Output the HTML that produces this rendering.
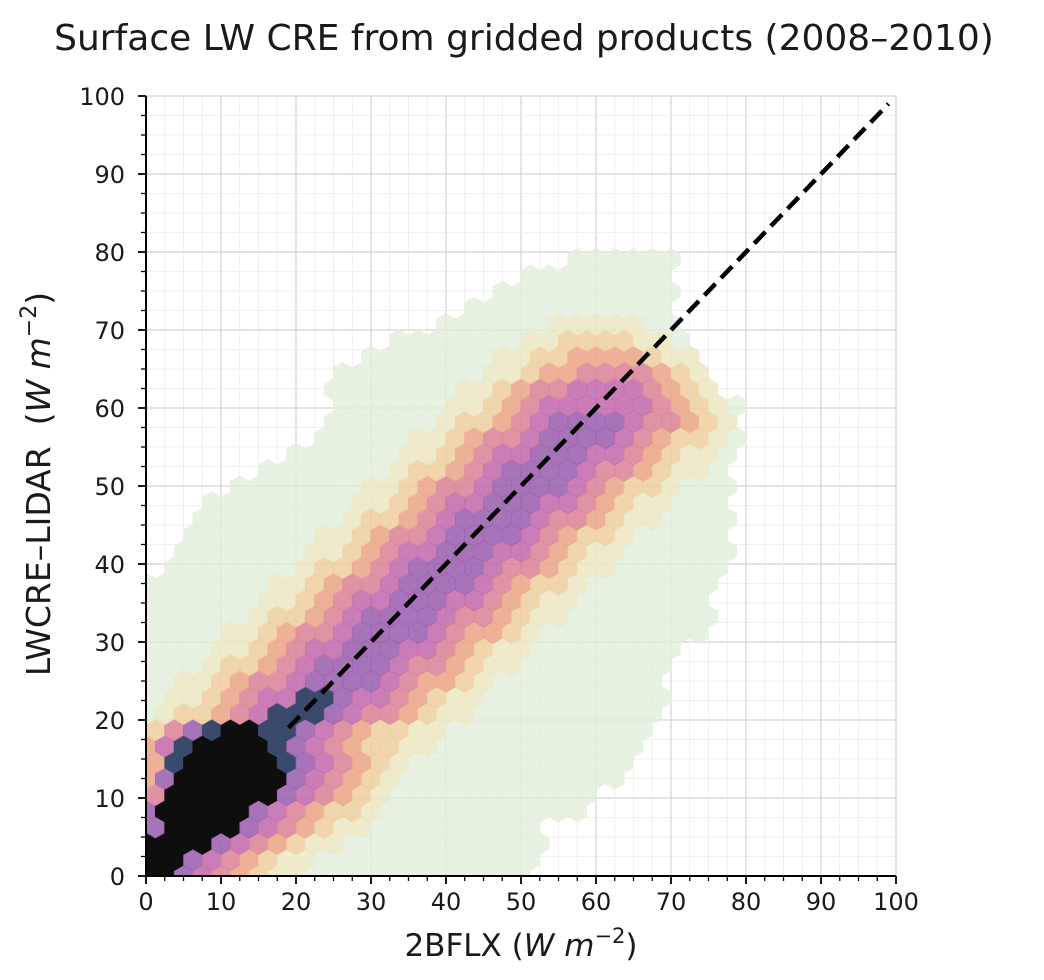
<!DOCTYPE html>
<html><head><meta charset="utf-8"><style>
html,body{margin:0;padding:0;background:#fff;}
svg{display:block;font-family:"DejaVu Sans","Liberation Sans",sans-serif;}
</style></head><body>
<svg id="chart" width="1044" height="980" viewBox="0 0 1044 980">
<defs><clipPath id="plotclip"><rect x="146" y="96" width="750" height="780"/></clipPath></defs>
<text x="524" y="50" text-anchor="middle" font-size="36" fill="#1a1a1a">Surface LW CRE from gridded products (2008–2010)</text>
<g id="grid"></g>
<g id="oneone"></g>
<g id="hexes" clip-path="url(#plotclip)"></g>
<g id="axes"></g>
<text x="521" y="956" text-anchor="middle" font-size="31" fill="#1a1a1a">2BFLX (<tspan font-style="italic">W m</tspan><tspan font-size="21" dy="-13">−2</tspan><tspan dy="13">)</tspan></text>
<text transform="translate(50,484) rotate(-90)" text-anchor="middle" font-size="33" fill="#1a1a1a" xml:space="preserve">LWCRE–LIDAR  (<tspan font-style="italic">W m</tspan><tspan font-size="22" dy="-14">−2</tspan><tspan dy="14">)</tspan></text>
</svg>
<script>
const xTicks = [0,10,20,30,40,50,60,70,80,90,100];
const yTicks = [0,10,20,30,40,50,60,70,80,90,100];
const binStepX = 2.5;
const binStepY = 2.08;
const levelColors = ["#e3efdb","#ece8c4","#eed0a2","#eba78a","#dc8598","#c36cad","#9b61b0","#3a4a6c","#0e0e0e"];
const hexRows = [
"886543211000000000000............",
"886543211000000000000............",
"8888654321100000000000...........",
"688886543211000000000............",
"688888654322100000000000.........",
"488888865432100000000000.........",
"36888888654321000000000000.......",
"37888887654321000000000000.......",
"357888876543221100000000000......",
"246788776543221100000000000......",
"0122345777654432110000000000.....",
"0112345577655432110000000000.....",
"0011234456666543321000000000....",
"0001223456666544321100000000.....",
"00001123455666554321100000000....",
"000011234456666543321000000000...",
"0000001223456666544321100000000..",
"000000112345566655432110000000...",
"000000011234456666543221000000 0..",
".000000012234566665443211000000..",
"..000000011234556665543211000000.",
"..00000001123445666654322100000..",
"...0000000012234566665443211 0000.",
"...0000000011234556665543211000..",
".....00000001123445666654322 1000.",
"......0000000122345666654432110..",
"........0000001123455666554321 10.",
".........0000011234456666543221 0.",
"..........0000001223456666544321.",
"..........0000001123455555543210.",
"..........000000011234455554321..",
"..........00000000112334444321...",
"............00000001122333321 1...",
".............000000011222211 0....",
"................00000011111 00....",
".................00000000000.....",
"...................0000000000....",
"....................00000000.....",
".......................000000...."
];
const X0=146, X1=896, Y0=876, Y1=96;
function sx(v){return X0+(X1-X0)*v/100;}
function sy(v){return Y0-(Y0-Y1)*v/100;}
const NS="http://www.w3.org/2000/svg";
function mk(tag,attrs,parent){const e=document.createElementNS(NS,tag);for(const k in attrs)e.setAttribute(k,attrs[k]);parent.appendChild(e);return e;}
const grid=document.getElementById('grid');
for(let v=0;v<=100;v+=2.5){
  const major=(v%10===0);
  const gl=mk('line',{x1:sx(v),x2:sx(v),y1:sy(0),y2:sy(100),stroke:major?'#d4d4d4':'#ececec','stroke-width':major?1.2:0.8},grid);
  
  
  const gh=mk('line',{x1:sx(0),x2:sx(100),y1:sy(v),y2:sy(v),stroke:major?'#d4d4d4':'#ececec','stroke-width':major?1.2:0.8},grid);
  
  
}
const hexG=document.getElementById('hexes');
const hw=binStepX*(X1-X0)/100/2;
const rv=binStepY*(Y0-Y1)/100/1.5;
hexRows.forEach((row,i)=>{
  const clean=row.replace(/ /g,'');
  for(let j=0;j<clean.length;j++){
    const ch=clean[j];
    if(ch==='.'||ch===undefined)continue;
    const lvl=parseInt(ch,10);
    if(isNaN(lvl))continue;
    const xv=j*binStepX+(i%2?binStepX/2:0);
    const yv=i*binStepY;
    const cx=sx(xv), cy=sy(yv);
    const pts=[[0,-rv],[hw,-rv/2],[hw,rv/2],[0,rv],[-hw,rv/2],[-hw,-rv/2]].map(p=>(cx+p[0]).toFixed(2)+','+(cy+p[1]).toFixed(2)).join(' ');
    const op = lvl===0?0.8:(lvl>=7?1:0.88);
    const h=mk('polygon',{points:pts,fill:levelColors[lvl],stroke:levelColors[lvl],'stroke-width':0.8,opacity:op},hexG);
    
    
  }
});
// dashed line drawn on top of the coloured hexes but hidden under the black core
const svg=document.getElementById('chart');
const ol=document.getElementById('oneone');
svg.insertBefore(ol, document.getElementById('axes'));
const dl=mk('line',{x1:sx(19),y1:sy(19),x2:sx(99),y2:sy(99),stroke:'#000','stroke-width':4.5,'stroke-dasharray':'16 8'},ol);


const ax=document.getElementById('axes');
const sp1=mk('line',{x1:X0,x2:X0,y1:Y1,y2:Y0+1,stroke:'#000','stroke-width':2},ax);


const sp2=mk('line',{x1:X0-1,x2:X1,y1:Y0,y2:Y0,stroke:'#000','stroke-width':2},ax);


for(let v=0;v<=100;v+=2.5){
  const major=(v%10===0);
  const L=major?8:5;
  const t1=mk('line',{x1:sx(v),x2:sx(v),y1:Y0,y2:Y0+L,stroke:'#000','stroke-width':major?1.8:1.3},ax);
  
  
  const t2=mk('line',{x1:X0-L,x2:X0,y1:sy(v),y2:sy(v),stroke:'#000','stroke-width':major?1.8:1.3},ax);
  
  
}
xTicks.forEach(v=>{
  const t=mk('text',{x:sx(v),y:Y0+34,'text-anchor':'middle','font-size':24,fill:'#1a1a1a'},ax);
  t.textContent=v;
  
  
});
yTicks.forEach(v=>{
  const t=mk('text',{x:X0-21,y:sy(v)+9,'text-anchor':'end','font-size':24,fill:'#1a1a1a'},ax);
  t.textContent=v;
  
  
});
</script>
</body></html>
